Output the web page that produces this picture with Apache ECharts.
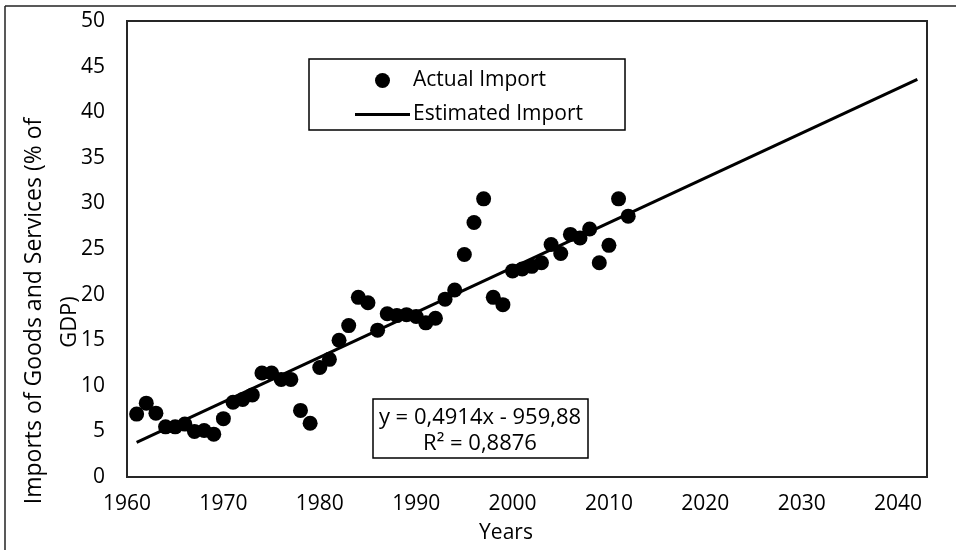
<!DOCTYPE html>
<html>
<head>
<meta charset="utf-8">
<script src="https://cdn.jsdelivr.net/npm/echarts@6/dist/echarts.min.js"></script>
<style>
html,body{margin:0;padding:0;background:#fff;}
#chart{width:956px;height:550px;}
</style>
</head>
<body>
<div id="chart"></div>
<script>
// Data
var years = [1961,1962,1963,1964,1965,1966,1967,1968,1969,1970,
             1971,1972,1973,1974,1975,1976,1977,1978,1979,1980,
             1981,1982,1983,1984,1985,1986,1987,1988,1989,1990,
             1991,1992,1993,1994,1995,1996,1997,1998,1999,2000,
             2001,2002,2003,2004,2005,2006,2007,2008,2009,2010,
             2011,2012];
var actualImport = [6.9,8.1,7.0,5.5,5.5,5.8,5.0,5.1,4.7,6.4,
                    8.2,8.5,9.0,11.4,11.4,10.7,10.7,7.3,5.9,12.0,
                    12.9,15.0,16.6,19.7,19.1,16.1,17.9,17.7,17.8,17.6,
                    16.9,17.4,19.5,20.5,24.4,27.9,30.5,19.7,18.9,22.6,
                    22.8,23.1,23.5,25.5,24.5,26.6,26.2,27.2,23.5,25.4,
                    30.5,28.6];
var trendYears = [1961, 2042];
var trendValues = [3.8, 43.6];
var xTicks = [1960,1970,1980,1990,2000,2010,2020,2030,2040];
var yTicks = [0,5,10,15,20,25,30,35,40,45,50];
var equationLines = ['y = 0,4914x - 959,88', 'R\u00b2 = 0,8876'];
var seriesNames = ['Actual Import', 'Estimated Import'];
var xTitle = 'Years';
var yTitleLines = ['Imports of Goods and Services (% of', 'GDP)'];

var FONT = '"Open Sans"';
var chart = echarts.init(document.getElementById('chart'), null, {renderer: 'canvas'});

var scatterData = years.map(function (y, i) { return [y, actualImport[i]]; });
var trendData = trendYears.map(function (y, i) { return [y, trendValues[i]]; });

var option = {
  animation: false,
  backgroundColor: '#fff',
  grid: {
    left: 127, top: 21, right: 29, bottom: 73,
    show: true, borderColor: '#262626', borderWidth: 2, backgroundColor: 'transparent'
  },
  xAxis: {
    type: 'value', min: 1960, max: 2043, interval: 10,
    axisLine: {show: false}, axisTick: {show: false}, splitLine: {show: false},
    axisLabel: {
      color: '#000', fontFamily: FONT, fontSize: 21, margin: 17,
      showMaxLabel: false,
      formatter: function (v) { return xTicks.indexOf(v) >= 0 ? String(v) : ''; }
    }
  },
  yAxis: {
    type: 'value', min: 0, max: 50, interval: 5,
    axisLine: {show: false}, axisTick: {show: false}, splitLine: {show: false},
    axisLabel: {
      color: '#000', fontFamily: FONT, fontSize: 21, margin: 22,
      formatter: function (v) { return yTicks.indexOf(v) >= 0 ? String(v) : ''; }
    }
  },
  legend: {
    orient: 'vertical', left: 309, top: 59,
    padding: [11, 42, 5, 46], itemGap: 13,
    itemWidth: 55, itemHeight: 15,
    borderColor: '#000', borderWidth: 1.5, backgroundColor: '#fff',
    textStyle: {color: '#000', fontFamily: FONT, fontSize: 21, padding: [0, 0, 0, -2]},
    data: [
      {name: seriesNames[0], icon: 'circle'},
      {name: seriesNames[1], icon: 'path://M0,0 H55 V3 H0 Z'}
    ]
  },
  series: [
    {
      name: seriesNames[0], type: 'scatter', data: scatterData,
      symbol: 'circle', symbolSize: 15,
      itemStyle: {color: '#000', opacity: 1}, z: 3
    },
    {
      name: seriesNames[1], type: 'line', data: trendData,
      symbol: 'none', showSymbol: false,
      lineStyle: {color: '#000', width: 3}, itemStyle: {color: '#000'}, z: 2
    }
  ],
  graphic: [
    {type: 'line', shape: {x1: 5, y1: 6, x2: 956, y2: 6}, style: {stroke: '#222', lineWidth: 1.5}, silent: true},
    {type: 'line', shape: {x1: 5, y1: 6, x2: 5, y2: 550}, style: {stroke: '#222', lineWidth: 1.5}, silent: true},
    {type: 'rect', shape: {x: 373, y: 399, width: 215, height: 59},
     style: {fill: '#fff', stroke: '#000', lineWidth: 1.5}, z: 10, silent: true},
    {type: 'text', x: 480, y: 418, z: 11, silent: true,
     style: {text: equationLines[0], fill: '#000', font: '22px ' + FONT, align: 'center', verticalAlign: 'middle'}},
    {type: 'text', x: 480, y: 444, z: 11, silent: true,
     style: {text: equationLines[1], fill: '#000', font: '22px ' + FONT, align: 'center', verticalAlign: 'middle'}},
    {type: 'text', x: 506, y: 533, silent: true,
     style: {text: xTitle, fill: '#000', font: '21px ' + FONT, align: 'center', verticalAlign: 'middle'}},
    {type: 'text', x: 34, y: 311, rotation: Math.PI / 2, silent: true,
     style: {text: yTitleLines[0], fill: '#000', font: '23px ' + FONT, align: 'center', verticalAlign: 'middle'}},
    {type: 'text', x: 70, y: 322, rotation: Math.PI / 2, silent: true,
     style: {text: yTitleLines[1], fill: '#000', font: '22px ' + FONT, align: 'center', verticalAlign: 'middle'}}
  ]
};
chart.setOption(option);
</script>
</body>
</html>
